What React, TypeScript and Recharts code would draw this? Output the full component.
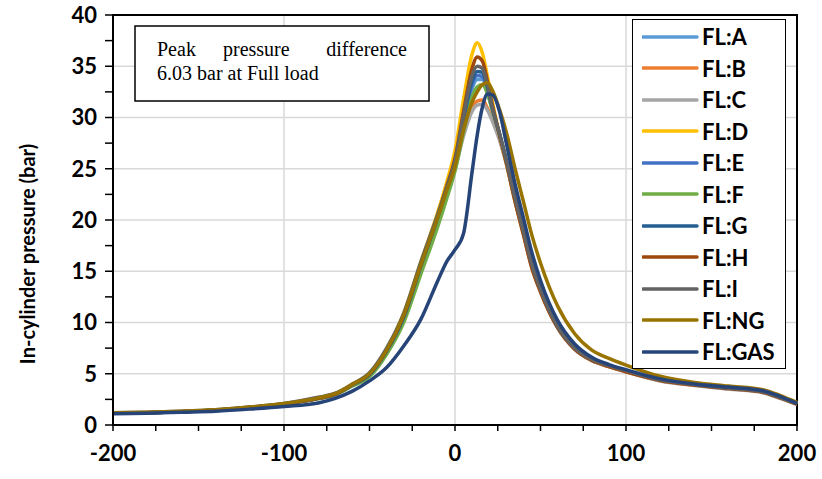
import React from "react";
import {
  LineChart,
  Line,
  XAxis,
  YAxis,
  CartesianGrid,
  Legend,
  ReferenceArea,
} from "recharts";

// crank angle (deg)
const ANGLES = [
  -200, -180, -160, -140, -120, -100, -80, -70, -60, -50, -40, -30, -20, -10, -5, 0, 5, 10, 13, 16, 19,
  22, 26, 30, 35, 40, 45, 50, 60, 70, 80, 90, 100, 120, 140, 160, 180, 190, 200,
];

// in-cylinder pressure (bar)
const FL_A = [
  1.15, 1.2, 1.3, 1.45, 1.7, 2.05, 2.6, 3.0, 3.9, 4.9, 7.2, 10.5, 15.4, 20.1,
  22.7, 25.2, 29.1, 32.8, 33.7, 33.7, 32.5, 30.6, 28.5, 25.8,
  22.2, 18.9, 15.6, 13.2, 9.6, 7.5, 6.4, 5.8, 5.3, 4.4, 3.95, 3.6, 3.25, 2.7, 2.1,
];
const FL_B = [
  1.15, 1.2, 1.3, 1.45, 1.7, 2.05, 2.6, 3.0, 3.9, 4.9, 7.2, 10.5, 15.4, 20.0,
  22.6, 25.0, 28.5, 31.0, 31.6, 31.7, 30.9, 29.7, 27.9, 25.5,
  21.9, 18.6, 15.3, 13.0, 9.5, 7.4, 6.3, 5.7, 5.2, 4.35, 3.9, 3.55, 3.2, 2.65, 2.05,
];
const FL_C = [
  1.15, 1.2, 1.3, 1.45, 1.7, 2.05, 2.6, 3.0, 3.9, 4.9, 7.2, 10.5, 15.3, 19.9,
  22.5, 24.9, 28.2, 30.6, 31.2, 31.3, 30.7, 29.6, 27.8, 25.5,
  22.0, 18.7, 15.4, 13.1, 9.5, 7.4, 6.3, 5.7, 5.2, 4.3, 3.85, 3.5, 3.15, 2.6, 2.0,
];
const FL_D = [
  1.15, 1.2, 1.3, 1.45, 1.7, 2.05, 2.65, 3.05, 4.0, 5.0, 7.4, 10.9, 15.9, 20.8,
  23.6, 26.8, 31.8, 36.2, 37.3, 36.3, 34.0, 31.4, 28.3, 25.6,
  22.0, 18.8, 15.5, 13.1, 9.6, 7.5, 6.4, 5.8, 5.3, 4.4, 3.95, 3.6, 3.25, 2.7, 2.1,
];
const FL_E = [
  1.15, 1.2, 1.3, 1.45, 1.7, 2.05, 2.6, 3.0, 3.9, 4.9, 7.2, 10.5, 15.5, 20.3,
  22.9, 25.4, 29.5, 33.2, 34.1, 34.0, 32.7, 30.7, 28.4, 25.8,
  22.2, 18.9, 15.6, 13.2, 9.6, 7.5, 6.4, 5.8, 5.3, 4.4, 3.95, 3.6, 3.25, 2.7, 2.1,
];
const FL_F = [
  1.15, 1.2, 1.3, 1.45, 1.7, 2.05, 2.55, 2.95, 3.8, 4.7, 6.9, 10.0, 14.7, 19.4,
  22.0, 24.8, 28.6, 32.0, 33.0, 33.2, 32.3, 30.6, 28.4, 25.8,
  22.2, 18.9, 15.6, 13.2, 9.6, 7.5, 6.4, 5.8, 5.3, 4.4, 3.95, 3.6, 3.25, 2.7, 2.1,
];
const FL_G = [
  1.15, 1.2, 1.3, 1.45, 1.7, 2.05, 2.6, 3.0, 3.9, 4.9, 7.2, 10.5, 15.5, 20.3,
  23.0, 25.6, 29.8, 33.6, 34.5, 34.4, 32.9, 30.8, 28.4, 25.8,
  22.2, 18.9, 15.6, 13.2, 9.6, 7.5, 6.4, 5.8, 5.3, 4.4, 3.95, 3.6, 3.25, 2.7, 2.1,
];
const FL_H = [
  1.15, 1.2, 1.3, 1.45, 1.7, 2.05, 2.6, 3.0, 3.95, 5.0, 7.3, 10.7, 15.7, 20.5,
  23.2, 26.0, 30.6, 34.8, 35.9, 35.5, 33.5, 31.1, 28.3, 25.6,
  21.9, 18.6, 15.3, 13.0, 9.5, 7.4, 6.3, 5.7, 5.2, 4.35, 3.9, 3.55, 3.2, 2.65, 2.05,
];
const FL_I = [
  1.2, 1.25, 1.35, 1.5, 1.75, 2.1, 2.7, 3.1, 4.0, 5.1, 7.5, 10.9, 15.9, 20.6,
  23.1, 25.8, 30.2, 34.1, 35.0, 34.8, 33.1, 30.9, 28.4, 25.8,
  22.2, 18.9, 15.6, 13.2, 9.6, 7.5, 6.4, 5.8, 5.3, 4.4, 3.95, 3.6, 3.25, 2.7, 2.1,
];
const FL_NG = [
  1.2, 1.25, 1.35, 1.5, 1.75, 2.1, 2.65, 3.05, 3.95, 5.0, 7.3, 10.7, 15.6, 20.3,
  22.8, 25.2, 28.8, 31.5, 32.5, 33.2, 33.4, 32.6, 30.8, 28.6,
  25.1, 21.8, 18.5, 15.8, 11.6, 8.9, 7.3, 6.5, 5.85, 4.75, 4.15, 3.8, 3.45, 2.9, 2.2,
];
const FL_GAS = [
  1.1, 1.15, 1.25, 1.35, 1.55, 1.8, 2.15, 2.6, 3.3, 4.3, 5.6, 7.7, 10.3, 14.1,
  15.9, 17.1, 18.7, 24.7, 28.3, 31.0, 32.3, 32.2, 30.6, 27.5,
  23.6, 20.2, 16.8, 14.1, 10.2, 7.9, 6.6, 5.9, 5.4, 4.5, 4.0, 3.7, 3.35, 2.8, 2.1,
];

const SERIES = [
  { key: "A", name: "FL:A", color: "#5B9BD5", values: FL_A },
  { key: "B", name: "FL:B", color: "#ED7D31", values: FL_B },
  { key: "C", name: "FL:C", color: "#A5A5A5", values: FL_C },
  { key: "D", name: "FL:D", color: "#FFC000", values: FL_D },
  { key: "E", name: "FL:E", color: "#4472C4", values: FL_E },
  { key: "F", name: "FL:F", color: "#70AD47", values: FL_F },
  { key: "G", name: "FL:G", color: "#255E91", values: FL_G },
  { key: "H", name: "FL:H", color: "#9E480E", values: FL_H },
  { key: "I", name: "FL:I", color: "#636363", values: FL_I },
  { key: "NG", name: "FL:NG", color: "#997300", values: FL_NG },
  { key: "GAS", name: "FL:GAS", color: "#264478", values: FL_GAS },
];

const X_TICKS = [-200, -175, -150, -125, -100, -75, -50, -25, 0, 25, 50, 75, 100, 125, 150, 175, 200];
const Y_TICKS = [0, 2.5, 5, 7.5, 10, 12.5, 15, 17.5, 20, 22.5, 25, 27.5, 30, 32.5, 35, 37.5, 40];
const GRID_X = [-100, 0, 100];
const GRID_Y = [5, 10, 15, 20, 25, 30, 35];

const data = ANGLES.map((angle, i) => {
  const row: Record<string, number> = { angle };
  SERIES.forEach((s) => {
    row[s.key] = s.values[i];
  });
  return row;
});

const tickStyle = { fill: "#000", fontSize: 22, fontWeight: 700, fontFamily: "Lato" };

function LegendBox() {
  return (
    <div
      style={{
        border: "1.5px solid #000",
        background: "#fff",
        boxSizing: "border-box",
        padding: "1px 0 0 9px",
        fontFamily: "Lato",
        fontWeight: 700,
        fontSize: 22,
        color: "#000",
      }}
    >
      {SERIES.map((s) => (
        <div key={s.key} style={{ display: "flex", alignItems: "center", height: 31.5 }}>
          <svg width={58} height={8} style={{ marginRight: 2 }}>
            <line x1={1} y1={4} x2={55} y2={4} stroke={s.color} strokeWidth={3.5} strokeLinecap="round" />
          </svg>
          <span>{s.name}</span>
        </div>
      ))}
    </div>
  );
}

export default function App() {
  return (
    <div style={{ position: "absolute", left: 0, top: 0, width: 822, height: 479, background: "#fff" }}>
      <LineChart width={822} height={479} data={data} margin={{ top: 15, right: 25, bottom: 9, left: 53 }}>
        <CartesianGrid
          stroke="#d9d9d9"
          strokeWidth={1.5}
          horizontalValues={GRID_Y}
          verticalValues={GRID_X}
        />
        <XAxis
          dataKey="angle"
          type="number"
          domain={[-200, 200]}
          ticks={X_TICKS}
          interval={0}
          height={45}
          tickFormatter={(v: number) => (v % 100 === 0 ? String(v) : "")}
          tick={tickStyle}
          tickSize={6}
          tickMargin={14}
          axisLine={{ stroke: "#000", strokeWidth: 2 }}
          tickLine={{ stroke: "#000", strokeWidth: 1.5 }}
        />
        <YAxis
          type="number"
          domain={[0, 40]}
          ticks={Y_TICKS}
          interval={0}
          width={60}
          tickFormatter={(v: number) => (v % 5 === 0 ? String(v) : "")}
          tick={tickStyle}
          tickSize={8}
          tickMargin={8}
          axisLine={{ stroke: "#000", strokeWidth: 2 }}
          tickLine={{ stroke: "#000", strokeWidth: 1.5 }}
        />
        <ReferenceArea x1={-200} x2={200} y1={0} y2={40} fill="none" stroke="#000" strokeWidth={2} />
        {SERIES.map((s) => (
          <Line
            key={s.key}
            type="monotone"
            dataKey={s.key}
            name={s.name}
            stroke={s.color}
            strokeWidth={3.5}
            dot={false}
            isAnimationActive={false}
          />
        ))}
        <Legend
          layout="vertical"
          align="center"
          verticalAlign="middle"
          content={() => <LegendBox />}
          wrapperStyle={{ left: 632, top: 19, width: 154, height: 348 }}
        />
      </LineChart>
      <svg
        width={822}
        height={479}
        style={{ position: "absolute", left: 0, top: 0, pointerEvents: "none" }}
      >
        <text
          transform="translate(27,254) rotate(-90)"
          textAnchor="middle"
          dominantBaseline="central"
          fontFamily="Lato"
          fontWeight={700}
          fontSize={20}
          fill="#000"
        >
          In-cylinder pressure (bar)
        </text>
        <rect x={135} y={26} width={294} height={75} fill="#fff" stroke="#000" strokeWidth={1.5} />
        <g fontFamily="Liberation Serif" fontSize={20} fill="#000">
          <text x={157} y={56}>Peak</text>
          <text x={223} y={56}>pressure</text>
          <text x={407} y={56} textAnchor="end">difference</text>
          <text x={157} y={80}>6.03 bar at Full load</text>
        </g>
      </svg>
    </div>
  );
}
